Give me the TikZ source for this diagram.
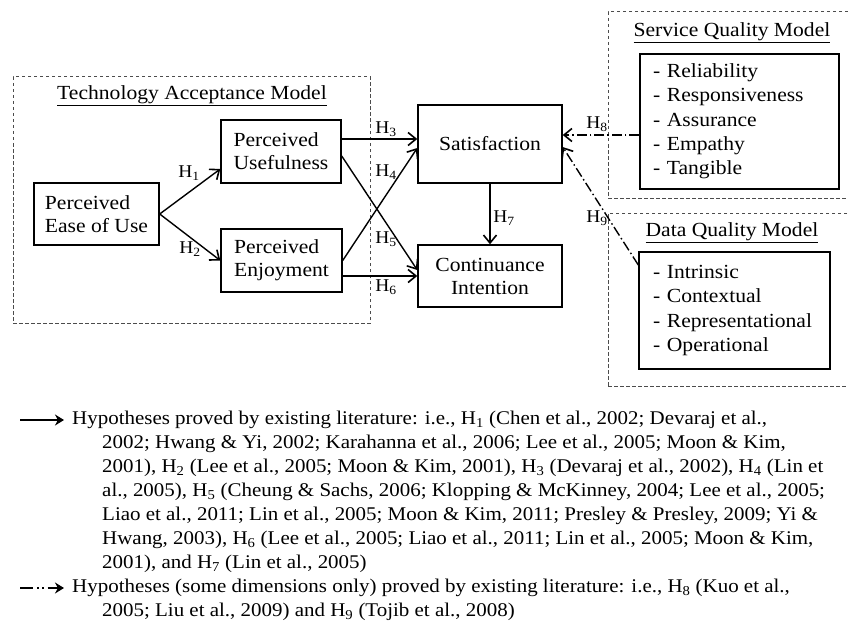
\documentclass[tikz,border=0pt]{standalone}
\usepackage{fontspec}
\setmainfont{Liberation Serif}[FakeStretch=1.08]
\usetikzlibrary{arrows.meta,calc}
\begin{document}
\begin{tikzpicture}[x=1pt,y=-1pt,
 box/.style={draw,line width=1.4pt,align=left,font=\fontsize{20}{23}\selectfont,inner sep=0pt},
 listbox/.style={draw,line width=1.4pt,align=left,font=\fontsize{20}{24.3}\selectfont,inner ysep=0pt},
 grp/.style={draw=black!70,line width=1pt,dash pattern=on 3.5pt off 2.5pt,inner sep=0pt},
 ttl/.style={font=\fontsize{20}{23}\selectfont,inner sep=0pt},
 conn/.style={line width=1.4pt,-{Straight Barb[length=8pt,width=13pt,line width=1.6pt]}},
 dconn/.style={conn,dash pattern=on 10pt off 3pt on 1.5pt off 3pt},
 hl/.style={font=\fontsize{18}{20}\selectfont,inner sep=0pt},
 leg/.style={anchor=west,inner sep=0pt,font=\fontsize{19.4}{22}\selectfont},
 legarrow/.style={line width=1.5pt,-{Stealth[length=9pt,width=11pt]}}
]
\clip (0,0) rectangle (848,623);
% groups
\node[grp,minimum width=357pt,minimum height=246pt] (tam) at (191.5,200) {};
\node[grp,minimum width=252pt,minimum height=186pt] (sqm) at (734,105) {};
\node[grp,minimum width=252pt,minimum height=173pt] (dqm) at (734,299.5) {};
\node[ttl] (tamt) at (192,96) {\underline{Technology Acceptance Model}};
\node[ttl] (sqmt) at (732,33) {\underline{Service Quality Model}};
\node[ttl] (dqmt) at (732,233) {\underline{Data Quality Model}};
% boxes
\node[box,minimum width=125pt,minimum height=62pt] (peou) at (96.5,214) {Perceived\\Ease of Use};
\node[box,minimum width=120pt,minimum height=63pt] (pu) at (281,151.5) {Perceived\\Usefulness};
\node[box,minimum width=121pt,minimum height=63pt] (pe) at (281.5,260.5) {Perceived\\Enjoyment};
\node[box,align=center,minimum width=144pt,minimum height=78pt] (sat) at (490,144) {Satisfaction};
\node[box,align=center,minimum width=144pt,minimum height=62pt] (ci) at (490,276) {Continuance\\Intention};
\node[listbox,inner xsep=13pt,text width=173pt,minimum height=135pt] (sq) at (739.5,121.5)
 {- Reliability\\- Responsiveness\\- Assurance\\- Empathy\\- Tangible};
\node[listbox,inner xsep=14pt,text width=163pt,minimum height=117pt] (dq) at (734.5,310.5)
 {- Intrinsic\\- Contextual\\- Representational\\- Operational};
% connectors
\draw[conn] (peou.east) -- ([yshift=-17.5pt]pu.west);
\draw[conn] (peou.east) -- (pe.west);
\draw[conn] ([yshift=12.5pt]pu.east) -- ([yshift=5pt]sat.west);
\draw[conn] (pe.east) -- ([yshift=-4pt]sat.west);
\draw[conn] ([yshift=-4.5pt]pu.east) -- ([yshift=6pt]ci.west);
\draw[conn] ([yshift=-15.5pt]pe.east) -- (ci.west);
\draw[conn] (sat.south) -- (ci.north);
\draw[dconn] ([yshift=-13.5pt]sq.west) -- ([yshift=9pt]sat.east);
\draw[dconn] ([yshift=45.5pt]dq.west) -- ([yshift=-3pt]sat.east);
% labels
\node[hl] (h1) at (189,173) {H\textsubscript{1}};
\node[hl] (h2) at (190,249) {H\textsubscript{2}};
\node[hl] (h3) at (386,129) {H\textsubscript{3}};
\node[hl] (h4) at (386,172) {H\textsubscript{4}};
\node[hl] (h5) at (386,239) {H\textsubscript{5}};
\node[hl] (h6) at (386,287) {H\textsubscript{6}};
\node[hl] (h7) at (504,218) {H\textsubscript{7}};
\node[hl] (h8) at (597,124) {H\textsubscript{8}};
\node[hl] (h9) at (597,218) {H\textsubscript{9}};
% legend
\coordinate (la1) at (20,420);
\coordinate (la2) at (64,420);
\draw[legarrow] (la1) -- (la2);
\coordinate (lb1) at (20,588);
\coordinate (lb2) at (64,588);
\draw[legarrow,dash pattern=on 13pt off 4pt on 1.5pt off 3.5pt on 1.5pt off 4pt] (lb1) -- (lb2);
\node[leg] (l1) at (72,420) {Hypotheses proved by existing literature: i.e., H\textsubscript{1} (Chen et al., 2002; Devaraj et al.,};
\node[leg] (l2) at (102,444) {2002; Hwang \& Yi, 2002; Karahanna et al., 2006; Lee et al., 2005; Moon \& Kim,};
\node[leg] (l3) at (102,468) {2001), H\textsubscript{2} (Lee et al., 2005; Moon \& Kim, 2001), H\textsubscript{3} (Devaraj et al., 2002), H\textsubscript{4} (Lin et};
\node[leg] (l4) at (102,492) {al., 2005), H\textsubscript{5} (Cheung \& Sachs, 2006; Klopping \& McKinney, 2004; Lee et al., 2005;};
\node[leg] (l5) at (102,516) {Liao et al., 2011; Lin et al., 2005; Moon \& Kim, 2011; Presley \& Presley, 2009; Yi \&};
\node[leg] (l6) at (102,540) {Hwang, 2003), H\textsubscript{6} (Lee et al., 2005; Liao et al., 2011; Lin et al., 2005; Moon \& Kim,};
\node[leg] (l7) at (102,564) {2001), and H\textsubscript{7} (Lin et al., 2005)};
\node[leg] (l8) at (72,588) {Hypotheses (some dimensions only) proved by existing literature: i.e., H\textsubscript{8} (Kuo et al.,};
\node[leg] (l9) at (102,612) {2005; Liu et al., 2009) and H\textsubscript{9} (Tojib et al., 2008)};
\end{tikzpicture}
\end{document}
